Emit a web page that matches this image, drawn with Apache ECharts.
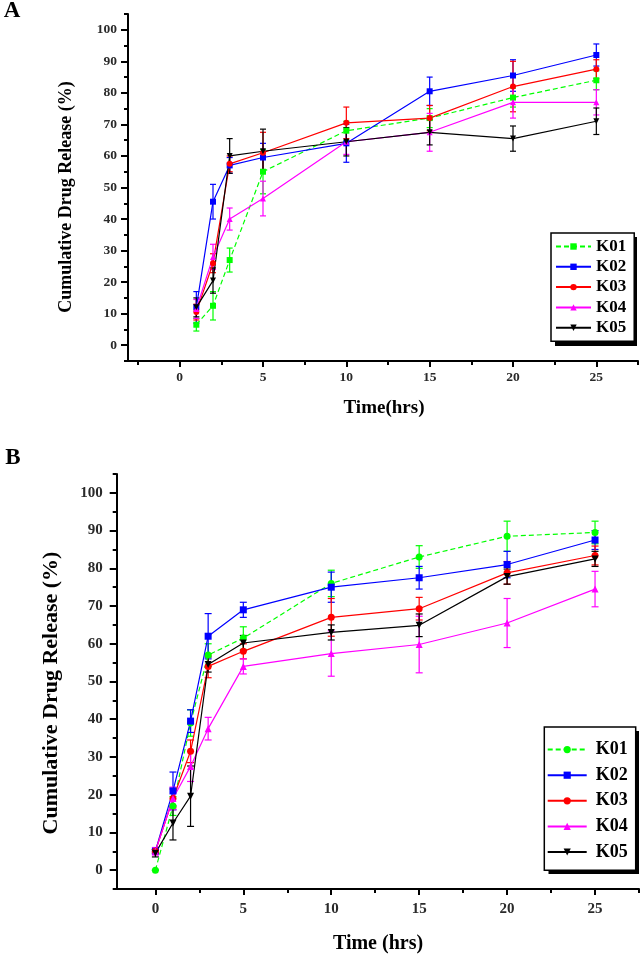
<!DOCTYPE html>
<html>
<head>
<meta charset="utf-8">
<script src="https://cdn.jsdelivr.net/npm/echarts@6/dist/echarts.min.js"></script>
<style>
html,body{margin:0;padding:0;background:#fff;}
#chart{width:642px;height:957px;}
</style>
</head>
<body>
<div id="chart"></div>
<script>
// ---------------- DATA ----------------
const seriesNames = ['K01', 'K02', 'K03', 'K04', 'K05'];
const xTickLabels = [0, 5, 10, 15, 20, 25];
const xMinorTicks = [-2.5, 2.5, 7.5, 12.5, 17.5, 22.5, 27.5];
const yTickLabels = [0, 10, 20, 30, 40, 50, 60, 70, 80, 90, 100];
const yMinorTicks = [-5, 5, 15, 25, 35, 45, 55, 65, 75, 85, 95, 105];

// Panel A
const timesA = [1, 2, 3, 5, 10, 15, 20, 25];
const k01A = [6.5, 12.5, 27, 55, 68, 72, 78.5, 84];
const k02A = [12, 45.5, 57, 59.5, 64, 80.5, 85.5, 92];
const k03A = [10.5, 26, 57.5, 61, 70.5, 72, 82, 87.5];
const k04A = [11.5, 28, 40, 46.5, 64.5, 67.5, 77, 77];
const k05A = [12, 20.5, 60, 61.5, 64.5, 67.5, 65.5, 71];
const k01AErr = [2, 4.5, 3.8, 7, 3, 3, 3, 3];
const k02AErr = [5, 5.5, 2.5, 4.5, 6, 4.5, 5, 3.5];
const k03AErr = [2.5, 3, 2.5, 6.5, 5, 4, 8, 3];
const k04AErr = [3, 4, 3.5, 5.5, 4, 6, 5, 4];
const k05AErr = [3, 4, 5.5, 7, 4.5, 4, 4, 4.2];

// Panel B
const timesB = [0, 1, 2, 3, 5, 10, 15, 20, 25];
const k01B = [0, 17, 39, 57, 61.5, 76, 83, 88.5, 89.5];
const k02B = [5, 21, 39.5, 62, 69, 75, 77.5, 81, 87.5];
const k03B = [5, 19, 31.5, 54, 58, 67, 69.3, 78.8, 83.4];
const k04B = [5, 19, 27.5, 37.5, 54, 57.4, 59.8, 65.5, 74.5];
const k05B = [4.5, 12.5, 19.6, 54.5, 60.2, 63, 64.9, 77.8, 82.5];
const k01BErr = [0, 2.5, 3.5, 3, 3, 3.5, 3, 4, 3];
const k02BErr = [0.5, 5, 3, 6, 2, 4, 3, 3.5, 2.5];
const k03BErr = [0.5, 2.5, 3, 3, 2, 5, 3, 3, 2.5];
const k04BErr = [1, 3, 4, 3, 2, 6, 7.5, 6.5, 4.7];
const k05BErr = [1, 4.5, 8, 2, 2, 2, 3, 2, 2];

// ---------------- STYLE ----------------
const FONT = '"Liberation Serif", "Times New Roman", serif';
const downTri = 'path://M0,0 L10,0 L5,10 Z';
const stylesA = [
  {color: '#00ff00', symbol: 'rect', dashed: true},
  {color: '#0000ff', symbol: 'rect', dashed: false},
  {color: '#ff0000', symbol: 'circle', dashed: false},
  {color: '#ff00ff', symbol: 'triangle', dashed: false},
  {color: '#000000', symbol: downTri, dashed: false}
];
const stylesB = [
  {color: '#00ff00', symbol: 'circle', dashed: true},
  {color: '#0000ff', symbol: 'rect', dashed: false},
  {color: '#ff0000', symbol: 'circle', dashed: false},
  {color: '#ff00ff', symbol: 'triangle', dashed: false},
  {color: '#000000', symbol: downTri, dashed: false}
];

function lineSeries(prefix, name, times, vals, st, xi, yi, size) {
  return {
    type: 'line', name: prefix + ':' + name,
    xAxisIndex: xi, yAxisIndex: yi,
    data: times.map((t, i) => [t, vals[i]]),
    symbol: st.symbol, symbolSize: size, showSymbol: true,
    lineStyle: {color: st.color, width: 1.2, type: st.dashed ? [5, 3] : 'solid'},
    itemStyle: {color: st.color},
    animation: false, z: 3
  };
}
function errSeries(prefix, name, times, vals, errs, st, xi, yi, cap) {
  return {
    type: 'custom', name: prefix + ':err:' + name,
    xAxisIndex: xi, yAxisIndex: yi,
    data: times.map((t, i) => [t, vals[i], errs[i]]),
    encode: {x: 0, y: 1},
    silent: true, animation: false, z: 2,
    renderItem: function (params, api) {
      const x = api.value(0), y = api.value(1), e = api.value(2);
      const top = api.coord([x, y + e]);
      const bot = api.coord([x, y - e]);
      const hw = cap / 2;
      const s = {stroke: st.color, lineWidth: 1.2};
      return {
        type: 'group',
        children: [
          {type: 'line', shape: {x1: top[0], y1: top[1], x2: bot[0], y2: bot[1]}, style: s},
          {type: 'line', shape: {x1: top[0] - hw, y1: top[1], x2: top[0] + hw, y2: top[1]}, style: s},
          {type: 'line', shape: {x1: bot[0] - hw, y1: bot[1], x2: bot[0] + hw, y2: bot[1]}, style: s}
        ]
      };
    }
  };
}

const valsA = [k01A, k02A, k03A, k04A, k05A];
const errsA = [k01AErr, k02AErr, k03AErr, k04AErr, k05AErr];
const valsB = [k01B, k02B, k03B, k04B, k05B];
const errsB = [k01BErr, k02BErr, k03BErr, k04BErr, k05BErr];

const series = [];
seriesNames.forEach((n, i) => {
  series.push(errSeries('A', n, timesA, valsA[i], errsA[i], stylesA[i], 0, 0, 6));
});
seriesNames.forEach((n, i) => {
  series.push(lineSeries('A', n, timesA, valsA[i], stylesA[i], 0, 0, 6));
});
seriesNames.forEach((n, i) => {
  series.push(errSeries('B', n, timesB, valsB[i], errsB[i], stylesB[i], 2, 2, 7));
});
seriesNames.forEach((n, i) => {
  series.push(lineSeries('B', n, timesB, valsB[i], stylesB[i], 2, 2, 7));
});

function xAxisMain(grid, min, fontSize, margin) {
  return {
    type: 'value', gridIndex: grid, min: min, max: 27.5, position: 'bottom',
    axisLine: {show: true, onZero: false, lineStyle: {color: '#000', width: 2}},
    axisTick: {show: true, length: 6, customValues: xTickLabels, lineStyle: {color: '#000', width: 2}},
    axisLabel: {show: true, customValues: xTickLabels, margin: margin,
      fontFamily: FONT, fontWeight: 'bold', fontSize: fontSize, color: '#2a2a2a'},
    splitLine: {show: false}
  };
}
function xAxisMinor(grid, min) {
  return {
    type: 'value', gridIndex: grid, min: min, max: 27.5, position: 'bottom',
    axisLine: {show: false, onZero: false},
    axisTick: {show: true, length: 4, customValues: xMinorTicks, lineStyle: {color: '#000', width: 2}},
    axisLabel: {show: false},
    splitLine: {show: false}
  };
}
function yAxisMain(grid, fontSize, margin) {
  return {
    type: 'value', gridIndex: grid, min: -5, max: 105, position: 'left',
    axisLine: {show: true, onZero: false, lineStyle: {color: '#000', width: 2}},
    axisTick: {show: true, length: 7, customValues: yTickLabels, lineStyle: {color: '#000', width: 2}},
    axisLabel: {show: true, customValues: yTickLabels, margin: margin,
      fontFamily: FONT, fontWeight: 'bold', fontSize: fontSize, color: '#2a2a2a'},
    splitLine: {show: false}
  };
}
function yAxisMinor(grid) {
  return {
    type: 'value', gridIndex: grid, min: -5, max: 105, position: 'left',
    axisLine: {show: false, onZero: false},
    axisTick: {show: true, length: 4, customValues: yMinorTicks, lineStyle: {color: '#000', width: 2}},
    axisLabel: {show: false},
    splitLine: {show: false}
  };
}

const legendCommon = {
  orient: 'vertical', selectedMode: false, z: 10,
  backgroundColor: '#fff', borderColor: '#000', borderWidth: 1.5,
  formatter: function (name) { return name.split(':')[1]; }
};

const option = {
  backgroundColor: '#fff',
  animation: false,
  grid: [
    {left: 128, top: 14, width: 510, height: 347},
    {left: 116.7, top: 474, width: 522.3, height: 415}
  ],
  xAxis: [
    xAxisMain(0, -3.1, 13.5, 10),
    xAxisMinor(0, -3.1),
    xAxisMain(1, -2.2, 15, 13),
    xAxisMinor(1, -2.2)
  ],
  yAxis: [
    yAxisMain(0, 13.5, 11),
    yAxisMinor(0),
    yAxisMain(1, 15, 14),
    yAxisMinor(1)
  ],
  legend: [
    Object.assign({}, legendCommon, {
      left: 551, top: 233,
      data: seriesNames.map(n => 'A:' + n),
      itemWidth: 35, itemHeight: 8, itemGap: 3.3,
      padding: [5, 8, 5, 4],
      textStyle: {fontFamily: FONT, fontWeight: 'bold', fontSize: 17, lineHeight: 17, color: '#000'}
    }),
    Object.assign({}, legendCommon, {
      left: 544.3, top: 727,
      data: seriesNames.map(n => 'B:' + n),
      itemWidth: 39, itemHeight: 9, itemGap: 7.6,
      padding: [13.6, 8, 9.3, 2.4],
      textStyle: {fontFamily: FONT, fontWeight: 'bold', fontSize: 18, lineHeight: 18, color: '#000', padding: [0, 0, 0, 4]}
    })
  ],
  graphic: [
    // legend drop shadows
    {type: 'rect', z: 1, shape: {x: 555, y: 237, width: 82, height: 109}, style: {fill: '#000'}},
    {type: 'rect', z: 1, shape: {x: 548.5, y: 731, width: 90.5, height: 143}, style: {fill: '#000'}},
    {type: 'text', x: 12, y: 11, style: {text: 'A', font: 'bold 23px ' + FONT, fill: '#000',
      textAlign: 'center', textVerticalAlign: 'middle', align: 'center', verticalAlign: 'middle'}},
    {type: 'text', x: 13, y: 458, style: {text: 'B', font: 'bold 23px ' + FONT, fill: '#000',
      textAlign: 'center', textVerticalAlign: 'middle', align: 'center', verticalAlign: 'middle'}},
    {type: 'text', x: 66.5, y: 197, rotation: Math.PI / 2, style: {text: 'Cumulative Drug Release (%)',
      font: 'bold 18px ' + FONT, fill: '#000',
      textAlign: 'center', textVerticalAlign: 'middle', align: 'center', verticalAlign: 'middle'}},
    {type: 'text', x: 384, y: 408, style: {text: 'Time(hrs)', font: 'bold 19px ' + FONT, fill: '#000',
      textAlign: 'center', textVerticalAlign: 'middle', align: 'center', verticalAlign: 'middle'}},
    {type: 'text', x: 51, y: 693, rotation: Math.PI / 2, style: {text: 'Cumulative Drug Release (%)',
      font: 'bold 22px ' + FONT, fill: '#000',
      textAlign: 'center', textVerticalAlign: 'middle', align: 'center', verticalAlign: 'middle'}},
    {type: 'text', x: 378, y: 944, style: {text: 'Time (hrs)', font: 'bold 20px ' + FONT, fill: '#000',
      textAlign: 'center', textVerticalAlign: 'middle', align: 'center', verticalAlign: 'middle'}}
  ],
  series: series
};

const chart = echarts.init(document.getElementById('chart'), null, {renderer: 'canvas'});
chart.setOption(option);
</script>
</body>
</html>
